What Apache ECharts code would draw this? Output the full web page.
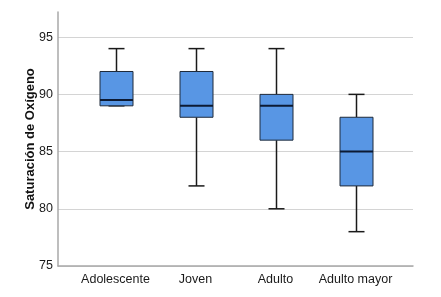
<!DOCTYPE html>
<html>
<head>
<meta charset="utf-8">
<script src="https://cdn.jsdelivr.net/npm/echarts@6/dist/echarts.min.js"></script>
<style>
  html, body { margin: 0; padding: 0; background: #fff; }
  #chart { width: 441px; height: 297px; }
</style>
</head>
<body>
<div id="chart"></div>
<script>
// grupos de edad
const categories = ["Adolescente", "Joven", "Adulto", "Adulto mayor"];
// [min, Q1, mediana, Q3, max]
const boxValues = [
  [89, 89, 89.5, 92, 94],
  [82, 88, 89, 92, 94],
  [80, 86, 89, 90, 94],
  [78, 82, 85, 88, 90]
];
const yTicks = [75, 80, 85, 90, 95];

const fontFam = "Liberation Sans, Arial, sans-serif";

const myChart = echarts.init(document.getElementById("chart"));

function renderBox(params, api) {
  const i = api.value(0);
  const lo = api.coord([i, api.value(1)]);
  const q1 = api.coord([i, api.value(2)]);
  const md = api.coord([i, api.value(3)]);
  const q3 = api.coord([i, api.value(4)]);
  const hi = api.coord([i, api.value(5)]);
  const x = Math.round(lo[0]) + 0.5;
  const bw = 33, cw = 16;
  const line = "#1a1a1a";
  return {
    type: "group",
    children: [
      { type: "line", shape: { x1: x, y1: hi[1], x2: x, y2: q3[1] }, style: { stroke: line, lineWidth: 1.5 } },
      { type: "line", shape: { x1: x, y1: q1[1], x2: x, y2: lo[1] }, style: { stroke: line, lineWidth: 1.5 } },
      { type: "line", shape: { x1: x - cw / 2, y1: hi[1], x2: x + cw / 2, y2: hi[1] }, style: { stroke: line, lineWidth: 1.5 } },
      { type: "line", shape: { x1: x - cw / 2, y1: lo[1], x2: x + cw / 2, y2: lo[1] }, style: { stroke: line, lineWidth: 1.5 } },
      { type: "rect", shape: { x: x - bw / 2, y: q3[1], width: bw, height: q1[1] - q3[1] },
        style: { fill: "#5896e4", stroke: "#1f2a3a", lineWidth: 1 } },
      { type: "line", shape: { x1: x - bw / 2, y1: md[1], x2: x + bw / 2, y2: md[1] }, style: { stroke: "#0c1a33", lineWidth: 2 } }
    ]
  };
}

const gridColor = "#d4d4d4";

const option = {
  animation: false,
  grid: [
    { left: 58, right: 28, top: 12, bottom: 31 },
    { left: 75.5, width: 320, top: 12, bottom: 31 }
  ],
  xAxis: [
    {
      gridIndex: 0, type: "value", min: 0, max: 1,
      axisLine: { show: true, lineStyle: { color: "#a8a8a8", width: 1.5 } },
      axisTick: { show: false }, axisLabel: { show: false }, splitLine: { show: false }
    },
    {
      gridIndex: 1, type: "category", data: categories, boundaryGap: true,
      axisLine: { show: false }, axisTick: { show: false }, splitLine: { show: false },
      axisLabel: { interval: 0, color: "#1a1a1a", fontSize: 12.5, fontFamily: fontFam, margin: 7 }
    }
  ],
  yAxis: [
    {
      gridIndex: 0, type: "value", min: 75, max: 97.2, interval: 5,
      name: "Saturación de Oxígeno", nameLocation: "middle", nameGap: 21,
      nameMoveOverlap: false,
      nameTextStyle: { fontSize: 13, fontWeight: "bold", color: "#111", fontFamily: fontFam },
      axisLine: { show: true, lineStyle: { color: "#a8a8a8", width: 1.5 } },
      axisTick: { show: false },
      axisLabel: {
        color: "#1a1a1a", fontSize: 12.5, fontFamily: fontFam, margin: 5,
        showMaxLabel: false,
        formatter: v => (yTicks.indexOf(v) >= 0 ? String(v) : "")
      },
      splitLine: {
        show: true,
        lineStyle: { color: [gridColor, gridColor, gridColor, gridColor, gridColor, "rgba(0,0,0,0)"], width: 1 }
      }
    },
    {
      gridIndex: 1, type: "value", min: 75, max: 97.2,
      show: false, splitLine: { show: false }
    }
  ],
  series: [
    {
      type: "custom",
      xAxisIndex: 1,
      yAxisIndex: 1,
      renderItem: renderBox,
      data: boxValues.map((b, i) => [i].concat(b)),
      encode: { x: 0, y: [1, 2, 3, 4, 5] }
    }
  ]
};

myChart.setOption(option);
</script>
</body>
</html>
